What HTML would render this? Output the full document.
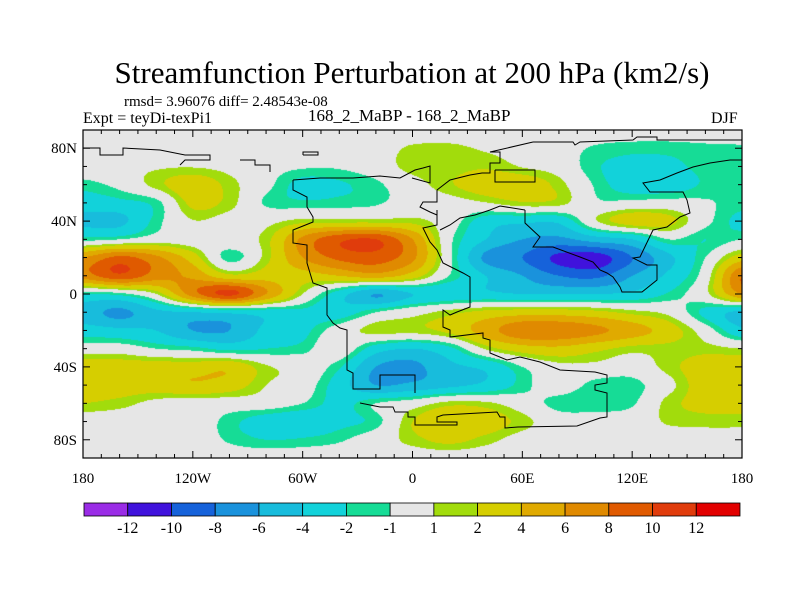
<!DOCTYPE html>
<html><head><meta charset="utf-8">
<style>
body{margin:0;background:#fff;width:800px;height:600px;overflow:hidden;position:relative;font-family:"Liberation Serif",serif;}
.t{position:absolute;white-space:nowrap;color:#000;}
</style></head>
<body>
<div class="t" style="left:0;width:824px;text-align:center;top:55px;font-size:31px;">Streamfunction Perturbation at 200 hPa (km2/s)</div>
<div class="t" style="left:124px;top:94px;font-size:15px;">rmsd= 3.96076 diff= 2.48543e-08</div>
<div class="t" style="left:83px;top:110px;font-size:16px;">Expt = teyDi-texPi1</div>
<div class="t" style="left:308px;top:106px;font-size:17px;">168_2_MaBP - 168_2_MaBP</div>
<div class="t" style="left:711px;top:110px;font-size:16px;">DJF</div>
<canvas id="field" width="659" height="328" style="position:absolute;left:83px;top:130px;"></canvas>
<svg id="ov" width="800" height="600" style="position:absolute;left:0;top:0;"></svg>
<script>
// grid longitudes and latitudes
const lons=[-180,-160,-140,-120,-100,-80,-60,-40,-20,0,20,40,60,80,100,120,140,160,180];
const lats=[90,80,70,60,50,40,30,20,10,0,-10,-20,-30,-40,-50,-60,-70,-80,-90];
const r90=[0,0,0,0,0,0,0,0,0,0,0,0,0,0,0,0,0,0,0];
const r80=[-0.5,0,0,0,0,0,0,0,0.3,1.2,1.3,0.8,0.3,-0.3,-1.2,-1.6,-1.6,-1.3,-1.2];
const r70=[0,0.4,0.8,0.9,0.5,-0.3,-0.8,-0.8,0,1.5,1.5,1.8,0.9,0.2,-1.8,-2.6,-2.4,-1.6,-1.5];
const r60=[-1.5,-0.5,1.5,3.2,1.5,-0.5,-2.6,-2.2,-1.3,0.3,1.8,3,3.2,1.5,-1.2,-3,-3,-1.8,-1.5];
const r50=[-3,-2.5,-1.5,2.5,1.5,-1.2,-1.7,-1.5,-1.2,0,0.3,0.9,1.8,1.5,-0.7,-0.5,-0.3,-0.8,-1.5];
const r40=[-4.5,-4.5,-1.5,0.9,0.3,0.5,1.5,1.5,1.5,1.5,0,-3,-3.5,-3.5,0.8,3,2.5,-0.5,-2.5];
const r30=[-1.5,-1,0,0,0.3,1.5,6.5,9.5,10,6,-0.5,-4,-6,-6.5,-5,-4,-1,-2,-1];
const r20=[6,8.5,6.5,3,-1.5,1.5,6,8.5,9,6.5,-0.5,-6.5,-8,-10.5,-11,-8,-4.5,-1,3];
const r10=[7,9.5,7,5.5,2.5,3,3,4,5,3,-1,-4,-6,-8,-8.5,-6,-3.5,0,8];
const r0=[-2,-1.5,1,7,10.5,6,1,-3,-6,-4,-3.5,-3.5,-4,-4,-4,-3.5,-1.8,0.5,6];
const rs10=[-5,-6.5,-4.5,-4,-3.5,-3,-2.5,-3,-1,0.3,1.5,2.5,3,3,2.5,1.5,0.5,-2.5,-4.5];
const rs20=[-3,-3.5,-4,-6,-6,-3.5,-2.5,0,1.5,1.5,2.5,5,7.5,7.5,6.5,5,3,0,-3.5];
const rs30=[0,0,-1,-1.5,-2.5,-2,-1.5,0.3,-3,-4,-2.5,1.2,3,3.5,2.5,1.5,1.5,1.5,1];
const rs40=[3,3,3,3,3.5,1.2,0.3,-1.8,-6,-6.5,-4.5,-3.5,-1,0.5,0.5,0,1.5,3,3];
const rs50=[2.8,3,3,3.8,3,1,0,-3,-6,-5.5,-4.5,-3.5,-1.5,0,-1.5,-1.5,0.5,3,3];
const rs60=[2,1.5,0.5,0,0,0,-1,-2.5,-1,0,1.5,1.3,0,-1.5,-1.8,-1.2,1.5,2.5,2.5];
const rs70=[0,0,0,0,-1.5,-3,-3.5,-2.5,-1.5,2,3.5,3,1.5,0,0,0,1.2,1.5,1.5];
const rs80=[0,0,0,0,-1.2,-2,-1.8,-1.2,0,1.5,2.5,1.5,0.3,0,0,0,0,0,0];
const rs90=[0,0,0,0,0,0,0,0,0,0,0,0,0,0,0,0,0,0,0];
const levels=[-12,-10,-8,-6,-4,-2,-1,1,2,4,6,8,10,12];
const levelLabels=["-12","-10","-8","-6","-4","-2","-1","1","2","4","6","8","10","12"];
const colors=["#9a2ce6","#4012dc","#1662da","#1a92dc","#18bcdc","#12d2da","#16dc96","#e6e6e6","#a2dc0c","#d6ce00","#e0aa00","#e08a00","#e05a00","#e03c0c","#e20000"];
const lonTicks=[-180,-120,-60,0,60,120,180];
const lonLabels=["180","120W","60W","0","60E","120E","180"];
const latTicks=[80,40,0,-40,-80];
const latLabels=["80N","40N","0","40S","80S"];

const grid=[r90,r80,r70,r60,r50,r40,r30,r20,r10,r0,rs10,rs20,rs30,rs40,rs50,rs60,rs70,rs80,rs90];
const X0=83,X1=742,Y0=130,Y1=458;
function xOf(lon){return X0+(lon+180)/360*(X1-X0);}
function yOf(lat){return Y0+(90-lat)/180*(Y1-Y0);}
function cr(p0,p1,p2,p3,t){return 0.5*(2*p1+(-p0+p2)*t+(2*p0-5*p1+4*p2-p3)*t*t+(-p0+3*p1-3*p2+p3)*t*t*t);}
function g(i,j){i=Math.max(0,Math.min(lats.length-1,i));j=Math.max(0,Math.min(lons.length-1,j));return grid[i][j];}
function val(lon,lat){
  const fx=(lon-lons[0])/(lons[1]-lons[0]); const fy=(lats[0]-lat)/(lats[0]-lats[1]);
  const j=Math.min(Math.floor(fx),lons.length-2), i=Math.min(Math.floor(fy),lats.length-2);
  const tx=fx-j, ty=fy-i; const r=[];
  for(let k=-1;k<=2;k++) r.push(cr(g(i+k,j-1),g(i+k,j),g(i+k,j+1),g(i+k,j+2),tx));
  return cr(r[0],r[1],r[2],r[3],ty);
}
const cv=document.getElementById('field');const ctx=cv.getContext('2d');
const img=ctx.createImageData(cv.width,cv.height);
const rgb=colors.map(c=>[parseInt(c.substr(1,2),16),parseInt(c.substr(3,2),16),parseInt(c.substr(5,2),16)]);
for(let py=0;py<cv.height;py++){for(let px=0;px<cv.width;px++){
  const lon=-180+(px+0.5)/(X1-X0)*360, lat=90-(py+0.5)/(Y1-Y0)*180;
  const v=val(lon,lat);let k=0;while(k<levels.length&&v>=levels[k])k++;
  const o=(py*cv.width+px)*4;img.data[o]=rgb[k][0];img.data[o+1]=rgb[k][1];img.data[o+2]=rgb[k][2];img.data[o+3]=255;}}
ctx.putImageData(img,0,0);

const NS='http://www.w3.org/2000/svg';const ov=document.getElementById('ov');
function mk(tag,attrs){const e=document.createElementNS(NS,tag);for(const k in attrs)e.setAttribute(k,attrs[k]);ov.appendChild(e);return e;}
// coastlines (pixel space, simplified)
const coasts=[
"293,180 293,190 307,197 307,207 313,217 313,222 293,230 293,243 307,245 307,263 313,283 327,288 327,315 333,323 340,328 347,330 347,370 353,373 353,389 380,389 380,375 415,375 415,393",
"360,403 380,407 393,407 395,412 408,412 408,417 415,417 415,425 457,425 457,422 437,422 437,417 443,415 497,412 500,417 505,417 505,428 518,427 577,426 600,418 607,417 607,393 595,390 595,385 607,383 607,375 595,372 560,370 540,362 520,357 507,360 490,353 490,340 483,338 483,333 450,337 450,330 443,327 443,310 450,315 457,312 470,307 470,277 463,273 443,263 437,250 430,242 423,228 437,225 437,210",
"293,180 320,178 353,178 380,176 400,178 415,170 423,168 430,166 430,183 412,178",
"525,210 525,223 540,237 533,247 553,247 580,257 593,262 600,270 607,273 613,277 620,287 622,292 642,292 657,280 657,265 647,265 633,258 640,257 653,230 667,227 680,217 690,213 687,200 683,192 650,192 643,183 660,180 677,173 693,167 710,163 730,160 742,160",
"533,142 573,142 575,145 580,142 633,140 637,137 657,137 657,140 742,140",
"533,142 490,152 500,152 500,163 490,163 490,173 482,173 470,175 450,180 437,190 437,197 437,202 423,202 420,207 430,212 437,215 437,225",
"525,210 500,206 490,210 475,215 460,218 450,225 440,230",
"83,148 100,148 100,155 123,155 123,148 160,150 185,155 210,155 210,160 185,160 180,165",
"240,160 255,160 255,165 270,165 270,172",
"303,155 318,155 318,152 303,152 303,155",
"495,170 535,170 535,182 495,182 495,170"];
coasts.forEach(c=>{const e=mk('polyline',{points:c,fill:'none',stroke:'#000','stroke-width':1});

});
// frame
const fr=mk('rect',{x:X0,y:Y0,width:X1-X0,height:Y1-Y0,fill:'none',stroke:'#000','stroke-width':1.2});


// ticks
for(let lon=-180;lon<=180;lon+=10){const x=xOf(lon);const L=(lon%60===0)?7:4;
 mk('line',{x1:x,y1:Y1,x2:x,y2:Y1-L,stroke:'#000'});mk('line',{x1:x,y1:Y0,x2:x,y2:Y0+L,stroke:'#000'});}
for(let lat=-90;lat<=90;lat+=10){const y=yOf(lat);const L=(lat%40===0)?7:4;
 mk('line',{x1:X0,y1:y,x2:X0+L,y2:y,stroke:'#000'});mk('line',{x1:X1,y1:y,x2:X1-L,y2:y,stroke:'#000'});}
lonTicks.forEach((lon,i)=>{const t=mk('text',{x:xOf(lon),y:483,'text-anchor':'middle','font-size':15,'font-family':'Liberation Serif, serif'});t.textContent=lonLabels[i];

});
latTicks.forEach((lat,i)=>{const t=mk('text',{x:77,y:yOf(lat)+5,'text-anchor':'end','font-size':15,'font-family':'Liberation Serif, serif'});t.textContent=latLabels[i];

});
// colorbar
const CB0=84,CB1=740,CBY=503,CBH=13;const bw=(CB1-CB0)/colors.length;
colors.forEach((c,i)=>{const r=mk('rect',{x:CB0+i*bw,y:CBY,width:bw,height:CBH,fill:c,stroke:'#000','stroke-width':0.8});

});
levelLabels.forEach((s,i)=>{const t=mk('text',{x:CB0+(i+1)*bw,y:533,'text-anchor':'middle','font-size':16,'font-family':'Liberation Serif, serif'});t.textContent=s;

});
</script>
</body></html>
